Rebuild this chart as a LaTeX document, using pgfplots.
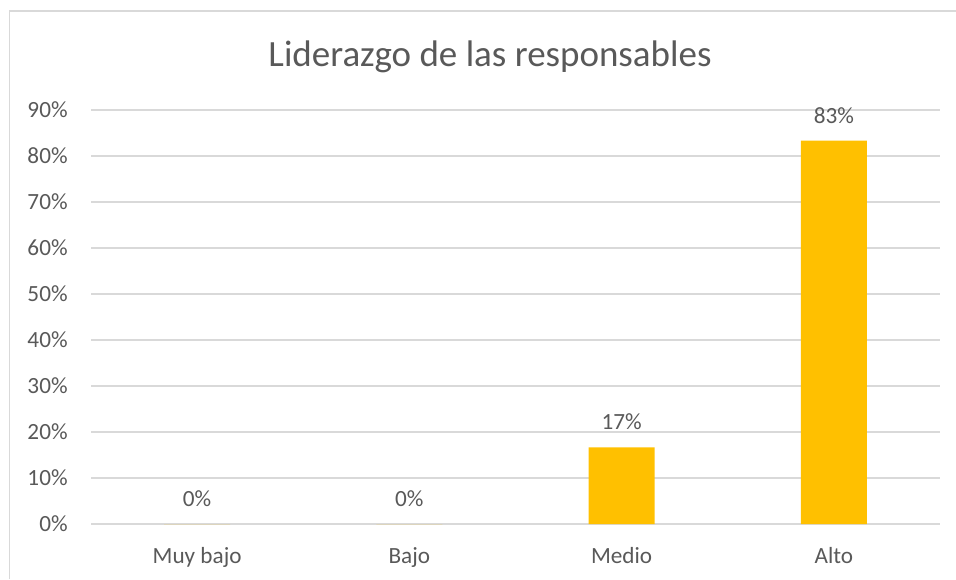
\documentclass[border=0pt]{standalone}
\usepackage{pgfplots}
\pgfplotsset{compat=1.18}
\usepackage{fontspec}
\setmainfont{Carlito}
\definecolor{txt}{HTML}{595959}
\definecolor{gridc}{HTML}{D9D9D9}
\definecolor{bar}{HTML}{FFC000}
\begin{document}
\begin{tikzpicture}
\useasboundingbox (0,0) rectangle (478pt,289.5pt);
\draw[gridc, line width=0.75pt] (4.75pt,0) -- (4.75pt,284pt) -- (478pt,284pt);
\node[anchor=base, text=txt, font=\fontsize{18.5}{22}\selectfont, inner sep=0pt] at (245pt,256pt) {Liderazgo de las responsables};
\begin{axis}[
  at={(45.5pt,27.5pt)}, anchor=south west,
  scale only axis, width=424.5pt, height=207pt,
  xmin=-0.5, xmax=3.5, ymin=0, ymax=90,
  axis line style={draw=none},
  ytick={0,10,...,90},
  xtick={0,1,2,3},
  xticklabels={Muy bajo,Bajo,Medio,Alto},
  yticklabel={\pgfmathprintnumber{\tick}\%},
  /pgf/number format/assume math mode=true,
  major tick length=0pt,
  ymajorgrids, major grid style={gridc, line width=0.75pt},
  ticklabel style={text=txt, font=\fontsize{11.6}{14}\selectfont},
  yticklabel style={anchor=east, inner sep=0pt, xshift=-11.5pt},
  xticklabel style={anchor=north, inner sep=0pt, yshift=-11.5pt},
  ybar, bar width=33pt,
  nodes near coords={\pgfmathprintnumber[fixed,precision=0]{\pgfplotspointmeta}\%},
  every node near coord/.append style={inner sep=0pt, yshift=8.5pt, text=txt, font=\fontsize{11.6}{14}\selectfont},
  clip=false,
]
\addplot[fill=bar, draw=none] coordinates {(0,0) (1,0) (2,16.67) (3,83.33)};
\end{axis}
\end{tikzpicture}
\end{document}
